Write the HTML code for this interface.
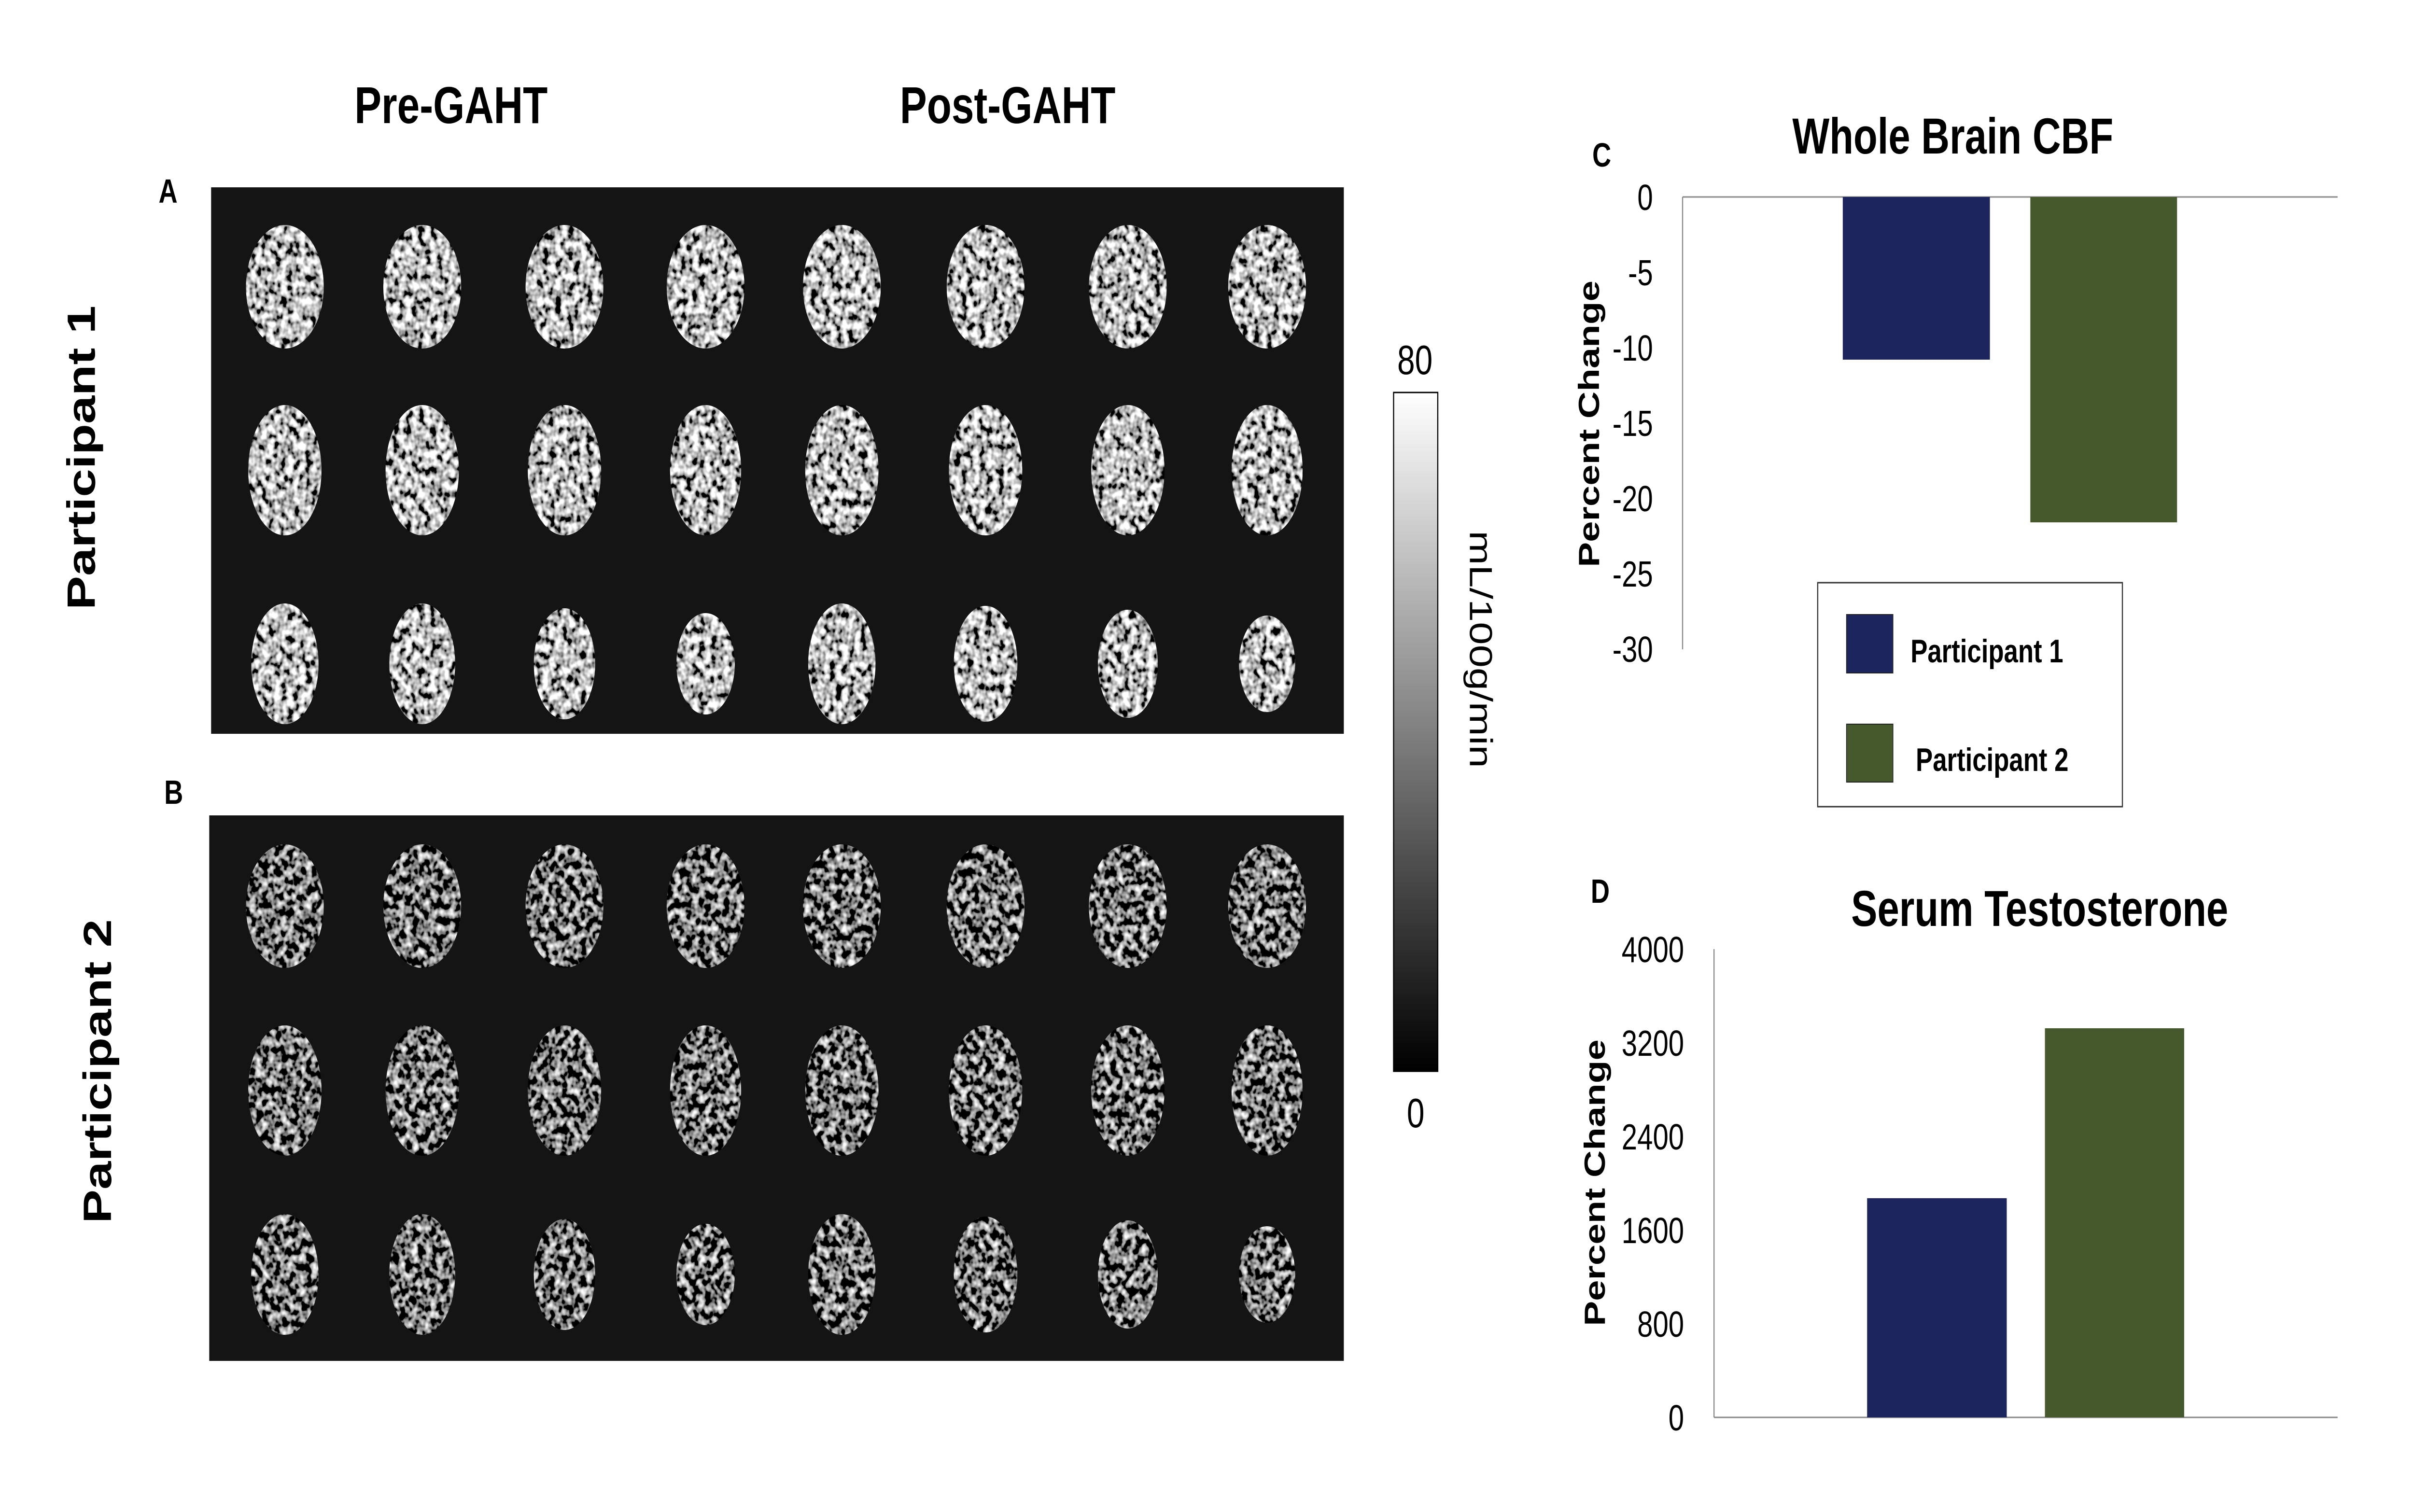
<!DOCTYPE html>
<html><head><meta charset="utf-8"><style>
html,body{margin:0;padding:0;background:#fff;overflow:hidden;width:100%;height:100%;}
svg{display:block;position:fixed;left:0;top:0;width:100vw;height:100vh;}
text{font-family:"Liberation Sans",Arial,sans-serif;}
</style></head><body>
<svg viewBox="0 0 6449 3132" preserveAspectRatio="none" xmlns="http://www.w3.org/2000/svg">
<defs>
<filter id="nA" x="0" y="0" width="100%" height="100%">
<feTurbulence type="fractalNoise" baseFrequency="0.06" numOctaves="2" seed="3" result="t"/>
<feColorMatrix in="t" type="matrix" values="3.0 0 0 0 -1.0  3.0 0 0 0 -1.0  3.0 0 0 0 -1.0  0 0 0 0 1" result="g"/>
<feComposite in="g" in2="SourceGraphic" operator="in"/>
</filter>
<filter id="nB" x="0" y="0" width="100%" height="100%">
<feTurbulence type="fractalNoise" baseFrequency="0.06" numOctaves="2" seed="7" result="t"/>
<feColorMatrix in="t" type="matrix" values="2.6 0 0 0 -1.1  2.6 0 0 0 -1.1  2.6 0 0 0 -1.1  0 0 0 0 1" result="g"/>
<feComposite in="g" in2="SourceGraphic" operator="in"/>
</filter>
<linearGradient id="cb" x1="0" y1="0" x2="0" y2="1">
<stop offset="0" stop-color="#ffffff"/><stop offset="1" stop-color="#000000"/>
</linearGradient>
</defs>

<text x="1205" y="255" font-size="108" font-weight="bold" text-anchor="middle">Pre-GAHT</text>
<text x="2692" y="255" font-size="108" font-weight="bold" text-anchor="middle">Post-GAHT</text>
<text x="449" y="420" font-size="70" font-weight="bold" text-anchor="middle">A</text>
<text x="464" y="1665" font-size="70" font-weight="bold" text-anchor="middle">B</text>
<text transform="translate(226,948) rotate(-90)" font-size="105" font-weight="bold" text-anchor="middle" dominant-baseline="middle">Participant 1</text>
<text transform="translate(269,2219) rotate(-90)" font-size="105" font-weight="bold" text-anchor="middle" dominant-baseline="middle">Participant 2</text>

<rect x="564" y="388" width="3026" height="1132" fill="#141414"/>
<rect x="559" y="1689" width="3031" height="1130" fill="#141414"/>

<g filter="url(#nA)" fill="#fff">
<ellipse cx="761" cy="594" rx="104" ry="128"/><ellipse cx="1128" cy="594" rx="104" ry="128"/><ellipse cx="1508" cy="594" rx="104" ry="128"/><ellipse cx="1885" cy="594" rx="104" ry="128"/><ellipse cx="2249" cy="594" rx="104" ry="128"/><ellipse cx="2633" cy="594" rx="104" ry="128"/><ellipse cx="3013" cy="594" rx="104" ry="128"/><ellipse cx="3385" cy="594" rx="104" ry="128"/>
<ellipse cx="761" cy="974" rx="98" ry="135"/><ellipse cx="1128" cy="974" rx="98" ry="135"/><ellipse cx="1508" cy="974" rx="98" ry="135"/><ellipse cx="1885" cy="974" rx="95" ry="135"/><ellipse cx="2249" cy="974" rx="98" ry="135"/><ellipse cx="2633" cy="974" rx="98" ry="135"/><ellipse cx="3013" cy="974" rx="98" ry="135"/><ellipse cx="3385" cy="974" rx="95" ry="135"/>
<ellipse cx="761" cy="1375" rx="90" ry="125"/><ellipse cx="1128" cy="1375" rx="88" ry="125"/><ellipse cx="1508" cy="1375" rx="82" ry="115"/><ellipse cx="1885" cy="1375" rx="78" ry="105"/><ellipse cx="2249" cy="1375" rx="90" ry="125"/><ellipse cx="2633" cy="1375" rx="85" ry="120"/><ellipse cx="3013" cy="1375" rx="80" ry="112"/><ellipse cx="3385" cy="1375" rx="75" ry="100"/>
</g>
<g filter="url(#nB)" fill="#fff">
<ellipse cx="761" cy="1877" rx="104" ry="128"/><ellipse cx="1128" cy="1877" rx="104" ry="128"/><ellipse cx="1508" cy="1877" rx="104" ry="128"/><ellipse cx="1885" cy="1877" rx="104" ry="128"/><ellipse cx="2249" cy="1877" rx="104" ry="128"/><ellipse cx="2633" cy="1877" rx="104" ry="128"/><ellipse cx="3013" cy="1877" rx="104" ry="128"/><ellipse cx="3385" cy="1877" rx="104" ry="128"/>
<ellipse cx="761" cy="2259" rx="98" ry="135"/><ellipse cx="1128" cy="2259" rx="98" ry="135"/><ellipse cx="1508" cy="2259" rx="98" ry="135"/><ellipse cx="1885" cy="2259" rx="95" ry="135"/><ellipse cx="2249" cy="2259" rx="98" ry="135"/><ellipse cx="2633" cy="2259" rx="98" ry="135"/><ellipse cx="3013" cy="2259" rx="98" ry="135"/><ellipse cx="3385" cy="2259" rx="95" ry="135"/>
<ellipse cx="761" cy="2640" rx="90" ry="125"/><ellipse cx="1128" cy="2640" rx="88" ry="125"/><ellipse cx="1508" cy="2640" rx="82" ry="115"/><ellipse cx="1885" cy="2640" rx="78" ry="105"/><ellipse cx="2249" cy="2640" rx="90" ry="125"/><ellipse cx="2633" cy="2640" rx="85" ry="120"/><ellipse cx="3013" cy="2640" rx="80" ry="112"/><ellipse cx="3385" cy="2640" rx="75" ry="100"/>
</g>

<rect x="3723" y="813" width="118" height="1406" fill="url(#cb)" stroke="#000" stroke-width="3"/>
<text x="3780" y="775" font-size="85" text-anchor="middle">80</text>
<text x="3782" y="2335" font-size="85" text-anchor="middle">0</text>
<text transform="translate(3949,1345) rotate(90)" font-size="85" text-anchor="middle" dominant-baseline="middle">mL/100g/min</text>

<text x="4279" y="345" font-size="70" font-weight="bold" text-anchor="middle">C</text>
<text x="5217" y="318" font-size="105" font-weight="bold" text-anchor="middle">Whole Brain CBF</text>
<line x1="4495" y1="408" x2="6245" y2="408" stroke="#888" stroke-width="3"/>
<line x1="4495" y1="408" x2="4495" y2="1345" stroke="#888" stroke-width="3"/>
<rect x="4923" y="408" width="393" height="337" fill="#1c255e"/>
<rect x="5424" y="408" width="392" height="674" fill="#46592d"/>
<g font-size="75" text-anchor="end">
<text x="4416" y="435">0</text><text x="4416" y="591">-5</text><text x="4416" y="747">-10</text><text x="4416" y="903">-15</text><text x="4416" y="1059">-20</text><text x="4416" y="1215">-25</text><text x="4416" y="1371">-30</text>
</g>
<text transform="translate(4251,878) rotate(-90)" font-size="78" font-weight="bold" text-anchor="middle" dominant-baseline="middle">Percent Change</text>
<rect x="4856" y="1207" width="814" height="464" fill="#fff" stroke="#333" stroke-width="3"/>
<rect x="4933" y="1273" width="124" height="121" fill="#1c255e" stroke="#222" stroke-width="2"/>
<rect x="4933" y="1500" width="124" height="120" fill="#46592d" stroke="#222" stroke-width="2"/>
<text x="5104" y="1372" font-size="68" font-weight="bold">Participant 1</text>
<text x="5118" y="1597" font-size="68" font-weight="bold">Participant 2</text>

<text x="4275" y="1870" font-size="70" font-weight="bold" text-anchor="middle">D</text>
<text x="5449" y="1918" font-size="105" font-weight="bold" text-anchor="middle">Serum Testosterone</text>
<line x1="4579" y1="1966" x2="4579" y2="2936" stroke="#888" stroke-width="3"/>
<line x1="4579" y1="2936" x2="6245" y2="2936" stroke="#888" stroke-width="3"/>
<rect x="4988" y="2482" width="373" height="454" fill="#1c255e"/>
<rect x="5463" y="2130" width="372" height="806" fill="#46592d"/>
<g font-size="75" text-anchor="end">
<text x="4499" y="1993">4000</text><text x="4499" y="2187">3200</text><text x="4499" y="2381">2400</text><text x="4499" y="2575">1600</text><text x="4499" y="2769">800</text><text x="4499" y="2963">0</text>
</g>
<text transform="translate(4267,2450) rotate(-90)" font-size="78" font-weight="bold" text-anchor="middle" dominant-baseline="middle">Percent Change</text>
</svg>
</body></html>
